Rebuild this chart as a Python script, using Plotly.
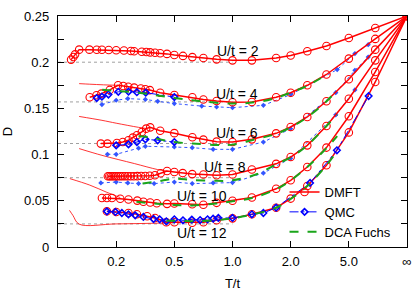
import numpy as np
import plotly.graph_objects as go

INF = float("inf")

# ---------------- data (T/t, D) ----------------
DMFT_U2_T = [0.039, 0.046, 0.0515, 0.0645, 0.099, 0.125, 0.144, 0.17, 0.2, 0.233, 0.264, 0.279, 0.316, 0.339,
             0.359, 0.385, 0.414, 0.454, 0.5, 0.558, 0.626, 0.714, 0.833, 1.0, 1.25, 1.667, 2.0, 2.5, 3.333, 5.0, 10.0, INF]
DMFT_U2_D = [0.2028, 0.2056, 0.2085, 0.2136, 0.2136, 0.2135, 0.2134, 0.2132, 0.2129, 0.2126, 0.2122, 0.2119, 0.2113, 0.2110,
             0.2106, 0.2102, 0.2097, 0.2090, 0.2078, 0.2068, 0.2055, 0.2045, 0.2031, 0.2020, 0.2020, 0.2045, 0.2072, 0.2118, 0.2175, 0.2262, 0.2370, 0.25]

DMFT_U4_T = [0.1, 0.124, 0.142, 0.174, 0.208, 0.23, 0.252, 0.279, 0.311, 0.334, 0.357, 0.414, 0.5, 0.626, 0.714, 0.833,
             1.0, 1.25, 1.667, 2.0, 2.5, 3.333, 5.0, 10.0, INF]
DMFT_U4_D = [0.1620, 0.1642, 0.1660, 0.1700, 0.1750, 0.1743, 0.1735, 0.1725, 0.1715, 0.1707, 0.1698, 0.1670, 0.1645, 0.1620, 0.1597, 0.1580,
             0.1567, 0.1570, 0.1620, 0.1670, 0.1750, 0.1867, 0.2039, 0.2252, 0.25]

DMFT_U6_T = [0.14, 0.165, 0.203, 0.228, 0.253, 0.273, 0.292, 0.316, 0.338, 0.359, 0.414, 0.5, 0.626, 0.714, 0.833,
             1.0, 1.25, 1.667, 2.0, 2.5, 3.333, 5.0, 10.0, INF]
DMFT_U6_D = [0.1119, 0.1119, 0.1126, 0.1136, 0.1155, 0.1184, 0.1209, 0.1245, 0.1281, 0.1295, 0.1258, 0.1232, 0.1187, 0.1162, 0.1140,
             0.1136, 0.1165, 0.1230, 0.1299, 0.1407, 0.1577, 0.1815, 0.2136, 0.25]

DMFT_U8_T = [0.1667, 0.1724, 0.1786, 0.1852, 0.1923, 0.2, 0.2083, 0.2174, 0.2273, 0.2381, 0.25, 0.2632, 0.2778, 0.2941,
             0.3125, 0.3333, 0.3571, 0.3846, 0.4167, 0.4545, 0.5, 0.556, 0.625, 0.714, 0.833, 1.0, 1.25, 1.667, 2.0, 2.5,
             3.333, 5.0, 10.0, INF]
DMFT_U8_D = [0.0765, 0.0765, 0.0765, 0.0765, 0.0765, 0.0765, 0.0765, 0.0765, 0.0765, 0.0765, 0.0765, 0.0766, 0.0766, 0.0767,
             0.0768, 0.0769, 0.0771, 0.0777, 0.0798, 0.0822, 0.0812, 0.0800, 0.0789, 0.0785, 0.0777, 0.0784, 0.0838, 0.0900, 0.0974, 0.1100,
             0.1310, 0.1605, 0.2020, 0.25]

DMFT_U10_T = [0.144, 0.163, 0.183, 0.217, 0.253, 0.294, 0.324, 0.359, 0.395, 0.4545, 0.5, 0.625, 0.714, 0.833,
              1.0, 1.25, 1.667, 2.0, 2.5, 3.333, 5.0, 10.0, INF]
DMFT_U10_D = [0.0530, 0.0530, 0.0530, 0.0522, 0.0514, 0.0502, 0.0490, 0.0482, 0.0474, 0.0467, 0.0470, 0.0463, 0.0458, 0.0478,
              0.0500, 0.0535, 0.0630, 0.0722, 0.0866, 0.1076, 0.1415, 0.1894, 0.25]

DMFT_U12_T = [0.163, 0.2, 0.253, 0.292, 0.343, 0.385, 0.45, 0.5, 0.625, 0.714, 0.833, 1.0, 1.25, 1.667, 2.0, 2.5,
              3.333, 5.0, 10.0, INF]
DMFT_U12_D = [0.0386, 0.0379, 0.0368, 0.0354, 0.0332, 0.0314, 0.0268, 0.0268, 0.0262, 0.0268, 0.0289, 0.0310, 0.0354, 0.0425, 0.0524, 0.0660,
              0.0884, 0.1240, 0.1786, 0.25]

# thin DMFT lines (low-temperature continuation)
THIN_U4_T = [0.0645, 0.1, 0.15, 0.208]
THIN_U4_D = [0.1768, 0.1762, 0.1755, 0.1750]
THIN_U6_T = [0.0645, 0.144, 0.2, 0.3, 0.338]
THIN_U6_D = [0.1413, 0.1371, 0.1340, 0.1295, 0.1283]
THIN_U8_T = [0.0645, 0.144, 0.28, 0.4, 0.4545]
THIN_U8_D = [0.1065, 0.0992, 0.0903, 0.0838, 0.0822]
THIN_U10_T = [0.035, 0.1, 0.16, 0.217]
THIN_U10_D = [0.0740, 0.0670, 0.0595, 0.0535]
THIN_U12_T = [0.034, 0.045, 0.064, 0.2, 0.45]
THIN_U12_D = [0.0397, 0.0340, 0.0248, 0.0250, 0.0260]

# QMC (large diamonds, dash-dot)
QMC_U4_T = [0.125, 0.144, 0.169, 0.209, 0.253, 0.292, 0.336, 0.5]
QMC_U4_D = [0.1612, 0.1627, 0.1650, 0.1680, 0.1682, 0.1675, 0.1670, 0.1623]
QMC_U6_T = [0.2, 0.253, 0.292, 0.334, 0.4, 0.5]
QMC_U6_D = [0.1100, 0.1111, 0.1136, 0.1165, 0.1155, 0.1136]
QMC_U12_T = [0.163, 0.197, 0.224, 0.253, 0.284, 0.324, 0.377, 0.411, 0.45, 0.5, 0.558, 0.622, 0.687, 0.75, 0.8, 0.85,
             1.0, 1.25, 1.43, 1.667, 2.6, 3.98, 8.1]
QMC_U12_D = [0.0386, 0.0379, 0.0368, 0.0354, 0.0343, 0.0325, 0.0303, 0.0300, 0.0278, 0.0300, 0.0289, 0.0297, 0.0292, 0.0300, 0.0307, 0.0315,
             0.0314, 0.0354, 0.0368, 0.0426, 0.0693, 0.1047, 0.1634]

# QMC (small diamonds, dotted)
QMCB_U4_T = [0.144, 0.2, 0.25, 0.334, 0.4, 0.5, 0.7, 0.833, 1.0, 1.43, 2.0, 4.0, 5.7, 8.0]
QMCB_U4_D = [0.1541, 0.1588, 0.1606, 0.1597, 0.1577, 0.1552, 0.1525, 0.1515, 0.1508, 0.1533, 0.1650, 0.1920, 0.2093, 0.2190]
QMCB_U6_T = [0.165, 0.2, 0.3, 0.334, 0.5, 0.625, 0.8, 1.0, 1.43, 2.0, 3.9, 5.7, 8.0]
QMCB_U6_D = [0.1003, 0.1003, 0.1070, 0.1090, 0.1082, 0.1075, 0.1057, 0.1057, 0.1136, 0.1280, 0.1670, 0.1912, 0.2056]
QMCB_U8_T = [0.14, 0.2, 0.25, 0.3, 0.38, 0.5, 0.625, 0.8, 1.0, 1.43, 2.0, 3.9, 5.7]
QMCB_U8_D = [0.0693, 0.0703, 0.0693, 0.0686, 0.0686, 0.0703, 0.0686, 0.0693, 0.0697, 0.0800, 0.0960, 0.1430, 0.1700]

# DCA Fuchs
DCA_U4_T = [0.145, 0.2, 0.3, 0.5, 0.626, 1.0, 1.4, 1.667, 2.0, 2.5, 3.333]
DCA_U4_D = [0.1703, 0.1690, 0.1670, 0.1613, 0.1588, 0.1552, 0.1577, 0.1615, 0.1672, 0.1745, 0.1865]
DCA_U6_T = [0.3, 0.35, 0.4, 0.5, 0.625, 0.833, 1.0, 1.33, 1.667, 2.0, 2.5, 3.333, 4.0]
DCA_U6_D = [0.1198, 0.1190, 0.1170, 0.1136, 0.1120, 0.1105, 0.1108, 0.1170, 0.1225, 0.1295, 0.1405, 0.1577, 0.1700]
DCA_U8_T = [0.32, 0.4, 0.5, 0.626, 0.833, 1.0, 1.33, 1.667, 2.0, 2.5, 3.333, 4.0]
DCA_U8_D = [0.0686, 0.0710, 0.0740, 0.0725, 0.0716, 0.0722, 0.0790, 0.0895, 0.0970, 0.1100, 0.1310, 0.1430]
DCA_U10_T = [0.29, 0.35, 0.5, 0.625, 0.833, 1.0, 1.25, 1.667, 2.0, 2.5, 3.333, 4.0]
DCA_U10_D = [0.0490, 0.0475, 0.0455, 0.0450, 0.0472, 0.0495, 0.0530, 0.0625, 0.0720, 0.0866, 0.1070, 0.1200]
DCA_U12_T = [0.45, 0.5, 0.625, 0.833, 1.0, 1.25, 1.667, 2.0, 2.5, 3.333, 4.0]
DCA_U12_D = [0.0285, 0.0285, 0.0280, 0.0290, 0.0310, 0.0350, 0.0425, 0.0520, 0.0660, 0.0884, 0.1040]

# T = 0 reference levels (dotted grey)
REF_D = [0.2, 0.157, 0.112, 0.075, 0.025]
REF_T_RANGE = [0.0, 1.0]

U_VALUES = [2, 4, 6, 8, 10, 12]

TICK_T = [0.2, 0.5, 1.0, 2.0, 5.0, INF]
TICK_TEXT = ["0.2", "0.5", "1.0", "2.0", "5.0", "\u221e"]
Y_TICKS = [0, 0.025, 0.05, 0.075, 0.1, 0.125, 0.15, 0.175, 0.2, 0.225, 0.25]
Y_TICK_TEXT = ["0", "", "0.05", "", "0.1", "", "0.15", "", "0.2", "", "0.25"]


def tx(T):
    """Axis scale: T/(1+T), which maps T=inf to 1."""
    a = np.asarray(T, dtype=float)
    with np.errstate(invalid="ignore"):
        x = a / (1.0 + a)
    return np.where(np.isinf(a), 1.0, x)


RED = "#ff0000"
BLUE = "#0000ff"
BLUE2 = "#3355ff"
GREEN = "#1aa51a"
FONT = "Liberation Sans, Arial, sans-serif"

fig = go.Figure()

# dotted reference lines
for d in REF_D:
    fig.add_trace(go.Scatter(x=tx(REF_T_RANGE), y=[d, d], mode="lines",
                             line=dict(color="#a0a0a0", width=1, dash="dot"),
                             showlegend=False, hoverinfo="skip"))

# thin red lines
for T, D in [(THIN_U4_T, THIN_U4_D), (THIN_U6_T, THIN_U6_D), (THIN_U8_T, THIN_U8_D),
             (THIN_U10_T, THIN_U10_D), (THIN_U12_T, THIN_U12_D)]:
    fig.add_trace(go.Scatter(x=tx(T), y=D, mode="lines", line=dict(color=RED, width=0.8, shape="spline"),
                             showlegend=False))

# QMC small dotted
for T, D in [(QMCB_U4_T, QMCB_U4_D), (QMCB_U6_T, QMCB_U6_D), (QMCB_U8_T, QMCB_U8_D)]:
    fig.add_trace(go.Scatter(x=tx(T), y=D, mode="lines+markers",
                             line=dict(color=BLUE2, width=1, dash="dot"),
                             marker=dict(symbol="diamond", size=4, color=BLUE2),
                             showlegend=False))

# DMFT
dmft = [(DMFT_U2_T, DMFT_U2_D), (DMFT_U4_T, DMFT_U4_D), (DMFT_U6_T, DMFT_U6_D),
        (DMFT_U8_T, DMFT_U8_D), (DMFT_U10_T, DMFT_U10_D), (DMFT_U12_T, DMFT_U12_D)]
for i, (T, D) in enumerate(dmft):
    fig.add_trace(go.Scatter(x=tx(T), y=D, mode="lines+markers", name="DMFT",
                             line=dict(color=RED, width=1.5),
                             marker=dict(symbol="circle-open", size=7.5, color=RED, line=dict(width=1.1)),
                             showlegend=(i == 0), legendrank=1))

# QMC large
qmc = [(QMC_U4_T, QMC_U4_D), (QMC_U6_T, QMC_U6_D), (QMC_U12_T, QMC_U12_D)]
for i, (T, D) in enumerate(qmc):
    fig.add_trace(go.Scatter(x=tx(T), y=D, mode="lines+markers", name="QMC",
                             line=dict(color=BLUE, width=1, dash="dashdot"),
                             marker=dict(symbol="diamond-open", size=5, color=BLUE, line=dict(width=1.6)),
                             showlegend=(i == 0), legendrank=2))

# DCA Fuchs
dca = [(DCA_U4_T, DCA_U4_D), (DCA_U6_T, DCA_U6_D), (DCA_U8_T, DCA_U8_D),
       (DCA_U10_T, DCA_U10_D), (DCA_U12_T, DCA_U12_D)]
for i, (T, D) in enumerate(dca):
    fig.add_trace(go.Scatter(x=tx(T), y=D, mode="lines", name="DCA Fuchs",
                             line=dict(color=GREEN, width=2, dash="dash", shape="spline"),
                             showlegend=(i == 0), legendrank=3))

# labels U/t = ...
LABEL_POS = [(0.516, 0.2125), (0.5125, 0.1655), (0.513, 0.1236), (0.479, 0.0862), (0.412, 0.0556), (0.412, 0.0150)]
for u, (lx, ly) in zip(U_VALUES, LABEL_POS):
    fig.add_annotation(x=lx, y=ly, text=f"U/t = {u}", showarrow=False,
                       font=dict(family=FONT, size=14, color="black"))

axis_common = dict(showline=True, linecolor="black", linewidth=1.3, mirror="ticks",
                   ticks="inside", ticklen=6, tickwidth=1, tickcolor="black",
                   showgrid=False, zeroline=False, automargin=False,
                   ticklabeloverflow="allow",
                   tickfont=dict(family=FONT, size=13, color="black"))

fig.update_xaxes(range=[0, 1], tickmode="array", tickvals=tx(TICK_T), ticktext=TICK_TEXT,
                 ticklabelstandoff=2,
                 title=dict(text="T/t", font=dict(family=FONT, size=13, color="black"), standoff=12),
                 **axis_common)
fig.update_yaxes(range=[0, 0.25], tickmode="array", tickvals=Y_TICKS, ticktext=Y_TICK_TEXT,
                 ticklabelstandoff=5,
                 title=dict(text="D", font=dict(family=FONT, size=13, color="black"), standoff=8),
                 **axis_common)

fig.update_layout(
    width=415, height=291,
    margin=dict(l=58, r=8, t=16, b=44, autoexpand=False),
    paper_bgcolor="white", plot_bgcolor="white",
    font=dict(family=FONT, size=13, color="black"),
    legend=dict(x=0.97, y=0.0, xanchor="right", yanchor="bottom",
                bgcolor="rgba(0,0,0,0)", font=dict(family=FONT, size=13),
                itemwidth=30, tracegroupgap=0),
)

fig.write_html("out.html", config={"displayModeBar": False},
               post_script="document.body.style.margin='0';document.body.style.overflow='hidden';")
